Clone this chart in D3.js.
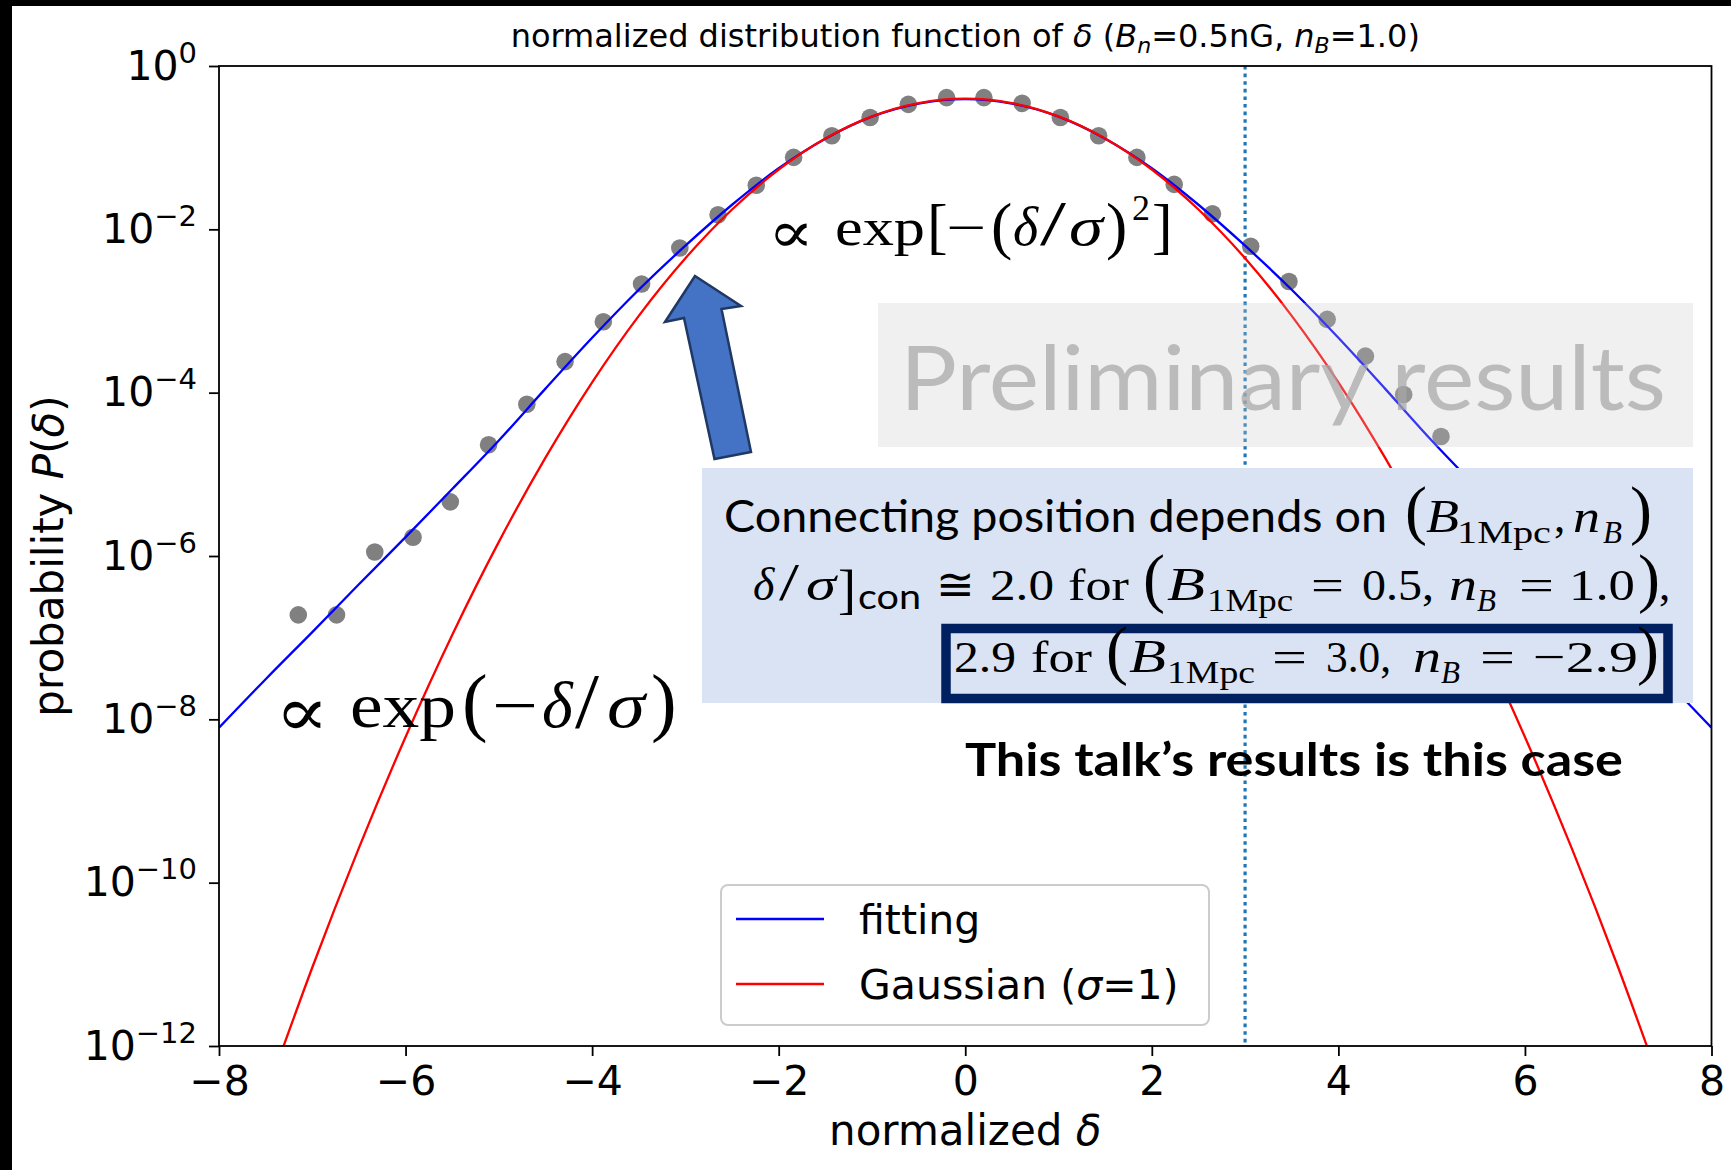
<!DOCTYPE html>
<html>
<head>
<meta charset="utf-8">
<script src="https://cdn.jsdelivr.net/npm/d3@7"></script>
<style>
  html, body { margin: 0; padding: 0; background: #fff; }
  svg { display: block; }
</style>
</head>
<body>
<svg id="chart" width="1731" height="1170"></svg>
<script>
// ---- data -------------------------------------------------------------
// histogram of the normalized density contrast (bin centres and probability)
const binCenters = [-7.15, -6.74, -6.33, -5.92, -5.52, -5.11, -4.70, -4.29, -3.88, -3.47,
                    -3.06, -2.65, -2.24, -1.84, -1.43, -1.02, -0.61, -0.20, 0.20, 0.61,
                    1.02, 1.43, 1.84, 2.24, 2.65, 3.06, 3.47, 3.88, 4.29, 4.70, 5.10];
const binProb = [1.9e-7, 1.9e-7, 1.12e-6, 1.7e-6, 4.6e-6, 2.3e-5, 7.2e-5, 2.4e-4, 7.4e-4, 2.14e-3,
                 5.9e-3, 1.51e-2, 3.47e-2, 7.6e-2, 0.140, 0.234, 0.339, 0.41, 0.41, 0.349,
                 0.234, 0.140, 0.076, 3.55e-2, 1.55e-2, 6.2e-3, 2.3e-3, 7.9e-4, 2.8e-4, 9.5e-5, 2.9e-5];

// fitted curve (Gaussian core, exponential tails)
const fitX = [-8, -7.5, -7, -6.5, -6, -5.5, -5, -4.5, -4, -3.5, -3, -2.5, -2, -1.5, -1, -0.5, 0,
              0.5, 1, 1.5, 2, 2.5, 3, 3.5, 4, 4.5, 5, 5.5, 6, 6.5, 7, 7.5, 8];
const fitProb = [7.9e-9, 3.1e-8, 1.17e-7, 4.5e-7, 1.7e-6, 6.6e-6, 2.6e-5, 1.12e-4, 4.7e-4, 1.82e-3,
                 6.3e-3, 2.0e-2, 5.6e-2, 0.129, 0.240, 0.347, 0.394,
                 0.347, 0.240, 0.129, 5.6e-2, 2.0e-2, 6.3e-3, 1.82e-3, 4.7e-4, 1.12e-4, 2.6e-5,
                 6.6e-6, 1.7e-6, 4.5e-7, 1.17e-7, 3.1e-8, 7.9e-9];

// unit Gaussian for reference
const gaussX = [-7.5, -7, -6.5, -6, -5.5, -5, -4.5, -4, -3.5, -3, -2.5, -2, -1.5, -1, -0.5, 0,
                0.5, 1, 1.5, 2, 2.5, 3, 3.5, 4, 4.5, 5, 5.5, 6, 6.5, 7, 7.5];
const gaussProb = [2.44e-13, 9.14e-12, 2.67e-10, 6.08e-9, 1.08e-7, 1.49e-6, 1.60e-5, 1.34e-4, 8.73e-4,
                   4.43e-3, 1.75e-2, 5.40e-2, 0.1295, 0.242, 0.352, 0.399,
                   0.352, 0.242, 0.1295, 5.40e-2, 1.75e-2, 4.43e-3, 8.73e-4, 1.34e-4, 1.60e-5,
                   1.49e-6, 1.08e-7, 6.08e-9, 2.67e-10, 9.14e-12, 2.44e-13];

const connectDelta = 3.0;          // dotted marker of the connecting position
const xTicks = [-8, -6, -4, -2, 0, 2, 4, 6, 8];
const yTicks = [1e0, 1e-2, 1e-4, 1e-6, 1e-8, 1e-10, 1e-12];
const legendLabels = ["fitting", "Gaussian"];

// ---- layout -----------------------------------------------------------
const W = 1731, H = 1170;
const plot = { left: 219, right: 1711.5, top: 66, bottom: 1046 };
const SANS = "'DejaVu Sans', sans-serif";
const SLIDE = "Lato, 'Open Sans', sans-serif";
const SERIF = "'Liberation Serif', 'DejaVu Serif', serif";
const MATHSYM = "'DejaVu Serif', serif";
const BLUE = "#0000ff", RED = "#ff0000";

const svg = d3.select("#chart");
svg.append("rect").attr("width", W).attr("height", H).attr("fill", "#fff");
// dark slide edges
svg.append("rect").attr("x", 0).attr("y", 0).attr("width", W).attr("height", 6).attr("fill", "#000");
svg.append("rect").attr("x", 0).attr("y", 0).attr("width", 12).attr("height", H).attr("fill", "#000");

const x = d3.scaleLinear().domain([-8, 8]).range([plot.left, plot.right]);
const y = d3.scaleLog().domain([1e-12, 1]).range([plot.bottom, plot.top]);

svg.append("defs").append("clipPath").attr("id", "plotClip")
  .append("rect")
  .attr("x", plot.left).attr("y", plot.top)
  .attr("width", plot.right - plot.left).attr("height", plot.bottom - plot.top);

const inner = svg.append("g").attr("clip-path", "url(#plotClip)");

// connecting position marker
inner.append("line")
  .attr("x1", x(connectDelta)).attr("x2", x(connectDelta))
  .attr("y1", plot.top).attr("y2", plot.bottom)
  .attr("stroke", "#1f77b4").attr("stroke-width", 3.2)
  .attr("stroke-dasharray", "3.6,4");

// histogram points
inner.selectAll("circle.bin")
  .data(binCenters.map((c, i) => [c, binProb[i]]))
  .join("circle")
  .attr("class", "bin")
  .attr("cx", d => x(d[0])).attr("cy", d => y(d[1]))
  .attr("r", 8.8).attr("fill", "#808080");

const line = d3.line().x(d => x(d[0])).y(d => y(d[1]));

inner.append("path")
  .datum(fitX.map((v, i) => [v, fitProb[i]]))
  .attr("d", line.curve(d3.curveMonotoneX))
  .attr("fill", "none").attr("stroke", BLUE).attr("stroke-width", 2.3);

inner.append("path")
  .datum(gaussX.map((v, i) => [v, gaussProb[i]]))
  .attr("d", line.curve(d3.curveNatural))
  .attr("fill", "none").attr("stroke", RED).attr("stroke-width", 2.3);

// ---- axes -------------------------------------------------------------
const xAxis = svg.append("g")
  .attr("transform", `translate(0,${plot.bottom})`)
  .call(d3.axisBottom(x).tickValues(xTicks).tickSize(10).tickSizeOuter(0).tickPadding(10)
        .tickFormat(d3.format("d")));
xAxis.select(".domain").remove();
xAxis.selectAll(".tick line").attr("stroke", "#000").attr("stroke-width", 1.8);
xAxis.selectAll(".tick text").attr("font-family", SANS).attr("font-size", 41).attr("fill", "#000");

const yAxis = svg.append("g")
  .attr("transform", `translate(${plot.left},0)`)
  .call(d3.axisLeft(y).tickValues(yTicks).tickSize(10).tickSizeOuter(0).tickPadding(12)
        .tickFormat(() => ""));
yAxis.select(".domain").remove();
yAxis.selectAll(".tick line").attr("stroke", "#000").attr("stroke-width", 1.8);
yAxis.selectAll(".tick text")
  .attr("font-family", SANS).attr("font-size", 41).attr("fill", "#000")
  .each(function (d) {
    const e = Math.round(Math.log10(d));
    const t = d3.select(this);
    t.append("tspan").text("10");
    t.append("tspan").attr("font-size", 29).attr("dy", -17)
      .text(e < 0 ? "\u2212" + (-e) : String(e));
  });

// frame
svg.append("rect")
  .attr("x", plot.left).attr("y", plot.top)
  .attr("width", plot.right - plot.left).attr("height", plot.bottom - plot.top)
  .attr("fill", "none").attr("stroke", "#000").attr("stroke-width", 1.8);

// axis labels and title
const xl = svg.append("text")
  .attr("x", (plot.left + plot.right) / 2).attr("y", 1145)
  .attr("text-anchor", "middle").attr("font-family", SANS).attr("font-size", 42);
xl.append("tspan").text("normalized ");
xl.append("tspan").attr("font-style", "italic").text("\u03b4");

const yl = svg.append("text")
  .attr("transform", `translate(63,${(plot.top + plot.bottom) / 2}) rotate(-90)`)
  .attr("text-anchor", "middle").attr("font-family", SANS).attr("font-size", 42);
yl.append("tspan").text("probability ");
yl.append("tspan").attr("font-style", "italic").text("P");
yl.append("tspan").text("(");
yl.append("tspan").attr("font-style", "italic").text("\u03b4");
yl.append("tspan").text(")");

const title = svg.append("text")
  .attr("x", (plot.left + plot.right) / 2).attr("y", 47)
  .attr("text-anchor", "middle").attr("font-family", SANS).attr("font-size", 32);
title.append("tspan").text("normalized distribution function of ");
title.append("tspan").attr("font-style", "italic").text("\u03b4");
title.append("tspan").text(" (");
title.append("tspan").attr("font-style", "italic").text("B");
title.append("tspan").attr("font-style", "italic").attr("font-size", 22).attr("dy", 6).text("n");
title.append("tspan").attr("dy", -6).text("=0.5nG, ");
title.append("tspan").attr("font-style", "italic").text("n");
title.append("tspan").attr("font-style", "italic").attr("font-size", 22).attr("dy", 6).text("B");
title.append("tspan").attr("dy", -6).text("=1.0)");

// ---- slide annotations ------------------------------------------------
function tokens(g, baseline, list) {
  list.forEach(k => {
    const t = g.append("text")
      .attr("x", k.x).attr("y", baseline + (k.dy || 0))
      .attr("font-family", k.font || SERIF)
      .attr("font-size", k.s)
      .attr("font-style", k.it ? "italic" : "normal")
      .attr("font-weight", k.bold ? "bold" : "normal")
      .attr("fill", k.fill || "#000")
      .text(k.t);
    if (k.w) t.attr("textLength", k.w).attr("lengthAdjust", "spacingAndGlyphs");
  });
}

const ann = svg.append("g");

// Gaussian-core formula
tokens(ann, 245, [
  { t: "\u221d", x: 768, s: 58, w: 46, dy: 7, font: MATHSYM },
  { t: "exp", x: 835, s: 52, w: 90 },
  { t: "[", x: 927, s: 62, dy: 2 },
  { t: "\u2212", x: 946, s: 52, w: 40 },
  { t: "(", x: 991, s: 64, dy: 2 },
  { t: "\u03b4", x: 1013, s: 54, it: true },
  { t: "/", x: 1040, s: 64, w: 26 },
  { t: "\u03c3", x: 1069, s: 54, it: true, w: 34 },
  { t: ")", x: 1106, s: 64, dy: 2 },
  { t: "2", x: 1132, s: 36, dy: -25 },
  { t: "]", x: 1152, s: 62, dy: 2 }
]);

// exponential-tail formula
tokens(ann, 727, [
  { t: "\u221d", x: 275, s: 70, w: 54, dy: 9, font: MATHSYM },
  { t: "exp", x: 350, s: 64, w: 106 },
  { t: "(", x: 462, s: 77 },
  { t: "\u2212", x: 492, s: 64, w: 46 },
  { t: "\u03b4", x: 542, s: 66, it: true },
  { t: "/", x: 575, s: 78, w: 24 },
  { t: "\u03c3", x: 607, s: 66, it: true, w: 38 },
  { t: ")", x: 651, s: 77 }
]);

// arrow pointing at the connecting position
ann.append("polygon")
  .attr("points", "695,276 741,306 721.5,309 751,452 714.5,459 684,318 665,322")
  .attr("fill", "#4472c4").attr("stroke", "#1f3864").attr("stroke-width", 2.5)
  .attr("stroke-linejoin", "miter");

// preliminary stamp
ann.append("rect").attr("x", 878).attr("y", 303).attr("width", 815).attr("height", 144)
  .attr("fill", "rgb(200,200,200)").attr("fill-opacity", 0.28);
ann.append("text").attr("x", 900).attr("y", 410)
  .attr("font-family", SLIDE).attr("font-size", 90)
  .attr("fill", "#a6a6a6").attr("fill-opacity", 0.72)
  .attr("textLength", 766).attr("lengthAdjust", "spacingAndGlyphs")
  .text("Preliminary results");

// explanation box
ann.append("rect").attr("x", 702).attr("y", 468).attr("width", 991).attr("height", 235)
  .attr("fill", "#dae3f3");

tokens(ann, 532, [
  { t: "Connecting position depends on", x: 724, s: 45, font: SLIDE, w: 663 },
  { t: "(", x: 1405, s: 66 },
  { t: "B", x: 1426, s: 46, it: true, w: 33 },
  { t: "1Mpc", x: 1457, s: 31, dy: 11, w: 94 },
  { t: ",", x: 1554, s: 45 },
  { t: "n", x: 1573, s: 46, it: true, w: 27 },
  { t: "B", x: 1603, s: 31, dy: 11, it: true },
  { t: ")", x: 1630, s: 66 }
]);

tokens(ann, 600, [
  { t: "\u03b4", x: 753, s: 46, it: true },
  { t: "/", x: 779, s: 52, w: 20 },
  { t: "\u03c3", x: 806, s: 46, it: true, w: 30 },
  { t: "]", x: 838, s: 54, dy: 8 },
  { t: "con", x: 858, s: 34, dy: 9, font: SLIDE, w: 63 },
  { t: "\u2245", x: 936, s: 45, w: 39 },
  { t: "2.0", x: 990, s: 45, w: 64 },
  { t: "for", x: 1068, s: 45, w: 61 },
  { t: "(", x: 1143, s: 66 },
  { t: "B", x: 1167, s: 46, it: true, w: 38 },
  { t: "1Mpc", x: 1207, s: 31, dy: 11, w: 86 },
  { t: "=", x: 1311, s: 45, w: 33 },
  { t: "0.5,", x: 1362, s: 45, w: 72 },
  { t: "n", x: 1449, s: 46, it: true, w: 28 },
  { t: "B", x: 1477, s: 31, dy: 11, it: true },
  { t: "=", x: 1519, s: 45, w: 35 },
  { t: "1.0", x: 1569, s: 45, w: 66 },
  { t: ")", x: 1638, s: 66 },
  { t: ",", x: 1659, s: 45 }
]);

// highlighted case
ann.append("rect").attr("x", 946).attr("y", 628.5).attr("width", 722).attr("height", 70)
  .attr("fill", "none").attr("stroke", "#002060").attr("stroke-width", 9.5);

tokens(ann, 672, [
  { t: "2.9", x: 954, s: 45, w: 62 },
  { t: "for", x: 1031, s: 45, w: 61 },
  { t: "(", x: 1106, s: 66 },
  { t: "B", x: 1129, s: 46, it: true, w: 37 },
  { t: "1Mpc", x: 1167, s: 31, dy: 11, w: 88 },
  { t: "=", x: 1272, s: 45, w: 35 },
  { t: "3.0,", x: 1326, s: 45, w: 65 },
  { t: "n", x: 1413, s: 46, it: true, w: 28 },
  { t: "B", x: 1441, s: 31, dy: 11, it: true },
  { t: "=", x: 1480, s: 45, w: 35 },
  { t: "\u22122.9", x: 1533, s: 45, w: 105 },
  { t: ")", x: 1637, s: 66 }
]);

ann.append("text").attr("x", 965).attr("y", 776)
  .attr("font-family", SLIDE).attr("font-size", 45).attr("font-weight", "bold")
  .attr("textLength", 658).attr("lengthAdjust", "spacingAndGlyphs")
  .text("This talk\u2019s results is this case");

// ---- legend -----------------------------------------------------------
const legend = svg.append("g");
legend.append("rect").attr("x", 721).attr("y", 885).attr("width", 488).attr("height", 140)
  .attr("rx", 7).attr("fill", "#fff").attr("fill-opacity", 0.8)
  .attr("stroke", "#cccccc").attr("stroke-width", 2);
const legendRows = [
  { label: legendLabels[0], color: BLUE, y: 919 },
  { label: legendLabels[1], color: RED, y: 984 }
];
legendRows.forEach((r, i) => {
  legend.append("line").attr("x1", 736).attr("x2", 824).attr("y1", r.y).attr("y2", r.y)
    .attr("stroke", r.color).attr("stroke-width", 2.3);
  const t = legend.append("text").attr("x", 859).attr("y", r.y + 14.5)
    .attr("font-family", SANS).attr("font-size", 41);
  t.append("tspan").text(r.label);
  if (i === 1) {
    t.append("tspan").text(" (");
    t.append("tspan").attr("font-style", "italic").text("\u03c3");
    t.append("tspan").text("=1)");
  }
});
</script>
</body>
</html>
